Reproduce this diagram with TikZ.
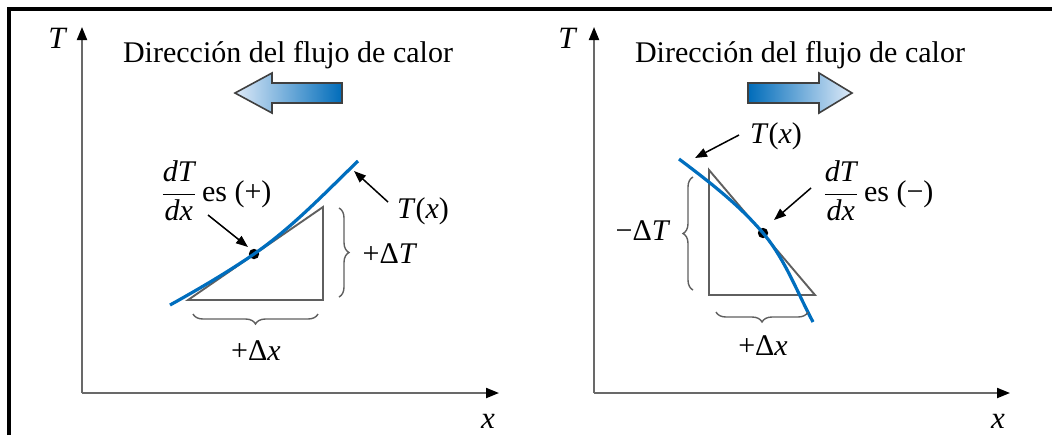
\documentclass[tikz,border=0pt]{standalone}
\usepackage{fontspec}
\setmainfont{Liberation Serif}
\usetikzlibrary{arrows.meta,decorations.pathreplacing}
\definecolor{curveblue}{RGB}{0,110,190}
\definecolor{arrowdark}{RGB}{0,108,186}
\definecolor{arrowlight}{RGB}{222,234,248}
\definecolor{axisgray}{RGB}{105,105,105}
\definecolor{trigray}{RGB}{95,95,95}
\newcommand{\myfrac}{$\displaystyle\frac{\hbox{\itshape dT}}{\hbox{\itshape dx}}$}
\begin{document}
\begin{tikzpicture}[x=0.5pt,y=-0.5pt,
  lbl/.style={font=\fontsize{15}{17}\selectfont, inner sep=0pt},
  axis/.style={draw=axisgray, line width=1pt, -{Triangle[length=6.5pt,width=5pt,fill=black,color=black]}},
  tri/.style={draw=trigray, line width=0.95pt, line join=miter},
  tcurve/.style={draw=curveblue, line width=1.6pt},
  pointer/.style={draw=black, line width=0.75pt, -{Triangle[length=6pt,width=4.5pt]}},
  bracestyle/.style={draw=trigray, line width=0.7pt, decorate, decoration={brace, amplitude=5pt}},
  blockarrow/.style={draw=black!75, line width=0.8pt, line join=miter},
  dotstyle/.style={circle, fill=black, inner sep=0pt, minimum size=5.2pt}
]
\useasboundingbox (0,0) rectangle (1052,435);
% frame
\draw[line width=1.6pt] (9,435) -- (9,9) -- (1052,9);

% ===== Left panel =====
\coordinate (LO) at (82,393);
\coordinate (LTy) at (82,27);
\coordinate (LXx) at (499,393);
\draw[axis] (LO) -- (LTy);
\draw[axis] (LO) -- (LXx);
\node[lbl, font=\fontsize{15.5}{17}\selectfont\itshape] (LTlab) at (57,38) {T};
\node[lbl, font=\fontsize{15.5}{17}\selectfont\itshape] (LXlab) at (488,421) {x};
\node[lbl] (Ltitle) at (288,55) {Dirección del flujo de calor};
\path[blockarrow, left color=arrowlight, right color=arrowdark]
  (235,93) -- (272,73) -- (272,83) -- (342,83) -- (342,103) -- (272,103) -- (272,113) -- cycle;
% triangle
\coordinate (LA) at (188,300);
\coordinate (LB) at (323,300);
\coordinate (LC) at (323,207);
\draw[tri] (LA) -- (LB) -- (LC) -- cycle;
% curve
\coordinate (Lstart) at (170,305);
\coordinate (Lend) at (358,161);
\node[dotstyle] (Ldot) at (254,254) {};
\draw[tcurve] (Lstart) .. controls (198,289.5) and (227.7,272.1) .. (Ldot.center)
  .. controls (291.8,227.9) and (324.9,193) .. (Lend);
% braces
\draw[bracestyle] (339,208) -- (339,297);
\draw[bracestyle] (318,314) -- (193,314);
\node[lbl] (LdT) at (390,254) {+Δ\textit{T}};
\node[lbl] (Ldx) at (256,351) {+Δ\textit{x}};
% labels and pointers
\node[lbl] (Lderiv) at (216,191) {\myfrac\,es (+)};
\node[lbl] (LTx) at (423,211) {\textit{T}(\textit{x})};
\coordinate (Lp1s) at (208,215);
\coordinate (Lp1e) at (248,247);
\coordinate (Lp2s) at (388,202);
\coordinate (Lp2e) at (354,171);
\draw[pointer] (Lp1s) -- (Lp1e);
\draw[pointer] (Lp2s) -- (Lp2e);

% ===== Right panel =====
\coordinate (RO) at (594,393);
\coordinate (RTy) at (594,27);
\coordinate (RXx) at (1010,393);
\draw[axis] (RO) -- (RTy);
\draw[axis] (RO) -- (RXx);
\node[lbl, font=\fontsize{15.5}{17}\selectfont\itshape] (RTlab) at (567,38) {T};
\node[lbl, font=\fontsize{15.5}{17}\selectfont\itshape] (RXlab) at (998,421) {x};
\node[lbl] (Rtitle) at (800,55) {Dirección del flujo de calor};
\path[blockarrow, left color=arrowdark, right color=arrowlight]
  (748,83) -- (819,83) -- (819,73) -- (852,93) -- (819,113) -- (819,103) -- (748,103) -- cycle;
% triangle
\coordinate (RA) at (709,170);
\coordinate (RB) at (709,295);
\coordinate (RC) at (815,295);
\draw[tri] (RA) -- (RB) -- (RC) -- cycle;
% curve
\coordinate (Rstart) at (679,159);
\coordinate (Rend) at (813,322);
\node[dotstyle] (Rdot) at (763,233) {};
\draw[tcurve] (Rstart) .. controls (708.6,181.3) and (739.1,204.8) .. (Rdot.center)
  .. controls (785,259) and (797,292) .. (Rend);
% braces
\draw[bracestyle] (693,290) -- (693,177);
\draw[bracestyle] (808,312) -- (716,312);
\node[lbl] (RdT) at (643,231) {−Δ\textit{T}};
\node[lbl] (Rdx) at (763,346) {+Δ\textit{x}};
% labels and pointers
\node[lbl] (Rderiv) at (878,191) {\myfrac\,es (−)};
\node[lbl] (RTx) at (776,136) {\textit{T}(\textit{x})};
\coordinate (Rp1s) at (739,135);
\coordinate (Rp1e) at (695,158);
\coordinate (Rp2s) at (811,188);
\coordinate (Rp2e) at (774,220);
\draw[pointer] (Rp1s) -- (Rp1e);
\draw[pointer] (Rp2s) -- (Rp2e);
\end{tikzpicture}
\end{document}
